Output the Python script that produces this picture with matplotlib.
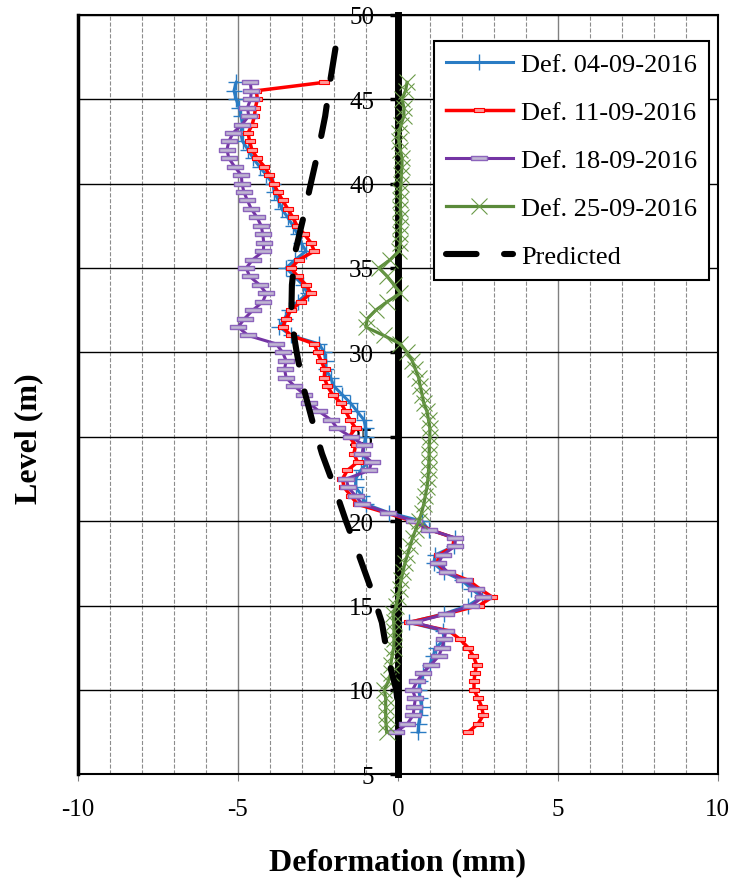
import numpy as np
import matplotlib
matplotlib.use("Agg")
import matplotlib.pyplot as plt
from matplotlib.path import Path
from matplotlib.ticker import MultipleLocator

plt.rcParams['font.family'] = ['Liberation Serif', 'DejaVu Serif']
plt.rcParams['axes.unicode_minus'] = False

# levels of the readings (m)
level = [46.0, 45.5, 45.0, 44.5, 44.0, 43.5, 43.0, 42.5, 42.0, 41.5, 41.0, 40.5, 40.0,
         39.5, 39.0, 38.5, 38.0, 37.5, 37.0, 36.5, 36.0, 35.5, 35.0, 34.5, 34.0, 33.5,
         33.0, 32.5, 32.0, 31.5, 31.0, 30.5, 30.0, 29.5, 29.0, 28.5, 28.0, 27.5, 27.0,
         26.5, 26.0, 25.5, 25.0, 24.5, 24.0, 23.5, 23.0, 22.5, 22.0, 21.5, 21.0, 20.5,
         20.0, 19.5, 19.0, 18.5, 18.0, 17.5, 17.0, 16.5, 16.0, 15.5, 15.0, 14.5, 14.0,
         13.5, 13.0, 12.5, 12.0, 11.5, 11.0, 10.5, 10.0, 9.5, 9.0, 8.5, 8.0, 7.5]

def_0409 = [-5.05, -5.12, -5.05, -4.96, -4.90, -4.85, -4.91, -4.85, -4.68, -4.52, -4.32, -4.11, -3.91,
            -3.86, -3.73, -3.63, -3.44, -3.28, -3.13, -3.03, -2.87, -3.20, -3.49, -3.23, -2.97, -2.82,
            -3.13, -3.39, -3.54, -3.70, -3.34, -2.46, -2.30, -2.25, -2.25, -2.10, -2.00, -1.74, -1.48,
            -1.27, -1.06, -1.00, -1.00, -1.06, -1.11, -0.95, -1.16, -1.32, -1.32, -1.11, -1.00, -0.28,
            0.75, 0.96, 1.79, 1.74, 1.17, 1.12, 1.43, 1.99, 2.30, 2.62, 2.20, 1.43, 0.34,
            1.40, 1.45, 1.20, 1.10, 1.00, 0.80, 0.70, 0.65, 0.70, 0.75, 0.70, 0.65, 0.63]

def_1109 = [-2.30, -4.42, -4.39, -4.45, -4.48, -4.55, -4.68, -4.63, -4.56, -4.39, -4.17, -4.01, -3.88,
            -3.75, -3.60, -3.44, -3.28, -3.15, -2.92, -2.72, -2.61, -3.08, -3.34, -3.13, -2.87, -2.72,
            -3.03, -3.34, -3.49, -3.60, -3.34, -2.61, -2.51, -2.40, -2.28, -2.30, -2.20, -2.04, -1.78,
            -1.63, -1.49, -1.32, -1.52, -1.32, -1.37, -1.26, -1.58, -1.73, -1.68, -1.47, -1.26, -0.38,
            0.45, 1.00, 1.76, 1.72, 1.30, 1.22, 1.52, 2.20, 2.55, 2.95, 2.54, 1.50, 0.35,
            1.60, 1.94, 2.20, 2.36, 2.46, 2.41, 2.38, 2.38, 2.51, 2.62, 2.67, 2.51, 2.20]

def_1809 = [-4.61, -4.58, -4.60, -4.70, -4.66, -4.87, -5.15, -5.28, -5.34, -5.28, -5.10, -4.89, -4.87,
            -4.81, -4.70, -4.58, -4.40, -4.27, -4.22, -4.19, -4.20, -4.53, -4.74, -4.63, -4.32, -4.11,
            -4.22, -4.53, -4.79, -4.99, -4.68, -3.80, -3.60, -3.49, -3.54, -3.49, -3.23, -2.92, -2.77,
            -2.46, -2.09, -1.89, -1.47, -1.06, -1.11, -0.82, -0.90, -1.61, -1.55, -1.32, -1.11, -0.32,
            0.50, 0.97, 1.80, 1.78, 1.40, 1.27, 1.55, 2.06, 2.45, 2.65, 2.30, 1.52, 0.50,
            1.50, 1.45, 1.38, 1.28, 1.04, 0.78, 0.60, 0.46, 0.55, 0.51, 0.48, 0.30, -0.06]

def_2509 = [0.29, 0.24, 0.13, 0.19, 0.19, 0.10, 0.03, 0.03, 0.08, 0.13, 0.13, 0.11, 0.10,
            0.08, 0.08, 0.08, 0.10, 0.08, 0.08, 0.08, 0.03, -0.23, -0.59, -0.33, -0.12, 0.08,
            -0.33, -0.69, -0.95, -1.00, -0.44, 0.08, 0.29, 0.45, 0.55, 0.65, 0.70, 0.76, 0.81,
            0.91, 0.96, 1.00, 1.00, 0.98, 0.98, 0.97, 0.96, 0.94, 0.91, 0.86, 0.81, 0.74,
            0.66, 0.56, 0.46, 0.38, 0.30, 0.22, 0.16, 0.10, 0.06, 0.00, -0.05, -0.15, -0.13,
            -0.12, -0.12, -0.13, -0.18, -0.22, -0.22, -0.30, -0.42, -0.38, -0.38, -0.38, -0.37, -0.35]

pred_level = [48.0, 46.0, 44.0, 42.0, 40.0, 38.0, 36.0, 34.0, 32.0, 30.0, 28.0,
              26.0, 24.0, 22.0, 20.0, 18.0, 16.0, 14.0, 12.0, 10.0, 8.0]
pred_def = [-1.95, -2.12, -2.27, -2.48, -2.72, -2.95, -3.20, -3.31, -3.33, -3.16, -2.96,
            -2.68, -2.37, -1.98, -1.62, -1.22, -0.84, -0.50, -0.32, -0.05, 0.07]


def rect_marker(h):
    return Path([(-1, -h), (1, -h), (1, h), (-1, h), (-1, -h)], closed=True)


fig = plt.figure(figsize=(7.34, 8.79), dpi=100)
ax = fig.add_axes([0.106, 0.118, 0.872, 0.864])

ax.plot(def_0409, level, color='#2a7cc4', lw=2.2, marker='+', ms=11, mew=1.0,
        label='Def. 04-09-2016', zorder=3)
ax.plot(def_1109, level, color='#ff0000', lw=2.5, marker=rect_marker(0.45), ms=6.5,
        mfc='#ff9a9a', mec='#ff0000', mew=0.8, label='Def. 11-09-2016', zorder=3)
ax.plot(def_1809, level, color='#7434a4', lw=2.2, marker=rect_marker(0.3), ms=11,
        mfc='#c0b6d2', mec='#8c64bc', mew=1.0, label='Def. 18-09-2016', zorder=3)
ax.plot(def_2509, level, color='#5a8a3a', lw=2.3, marker='x', ms=11, mew=0.8,
        mec='#6a9a48', label='Def. 25-09-2016', zorder=3)
ax.plot(pred_def, pred_level, color='black', lw=4.4, ls=(0, (5, 4.5)),
        dash_capstyle='round', label='Predicted', zorder=4)

ax.set_xlim(-10, 10)
ax.set_ylim(5, 50)
ax.set_xticks([-10, -5, 0, 5, 10])
ax.set_yticks([5, 10, 15, 20, 25, 30, 35, 40, 45, 50])
ax.xaxis.set_minor_locator(MultipleLocator(1))

ax.grid(axis='y', which='major', color='black', lw=1)
ax.grid(axis='x', which='major', color='#808080', lw=1)
ax.grid(axis='x', which='minor', color='#8c8c8c', ls='--', lw=0.8)

ax.spines['left'].set_position(('data', 0))
ax.spines['left'].set_linewidth(5)
ax.spines['left'].set_zorder(2.6)
for s in ['top', 'right', 'bottom']:
    ax.spines[s].set_linewidth(1.5)
ax.axvline(-10, color='black', lw=2.5, clip_on=False, zorder=2.5)

ax.tick_params(axis='y', direction='out', length=6, width=2.5, labelsize=18, pad=11)
ax.tick_params(axis='x', which='major', direction='out', length=5, color='#808080',
               labelsize=18, pad=12)
ax.tick_params(axis='x', which='minor', length=0)

ax.set_xlabel('Deformation (mm)', fontsize=23, fontweight='bold', va='center')
ax.xaxis.set_label_coords(0.5, -0.115)
ax.set_ylabel('Level (m)', fontsize=23, fontweight='bold', va='center')
ax.yaxis.set_label_coords(-0.077, 0.443)

leg = ax.legend(loc='upper right', bbox_to_anchor=(0.986, 0.966), fontsize=19,
                fancybox=False, framealpha=1, edgecolor='black', handlelength=2.55,
                labelspacing=0.93, handletextpad=0.3, borderpad=0.45, borderaxespad=0)
leg.get_frame().set_linewidth(1.5)

fig.savefig('out.png', dpi=100)
